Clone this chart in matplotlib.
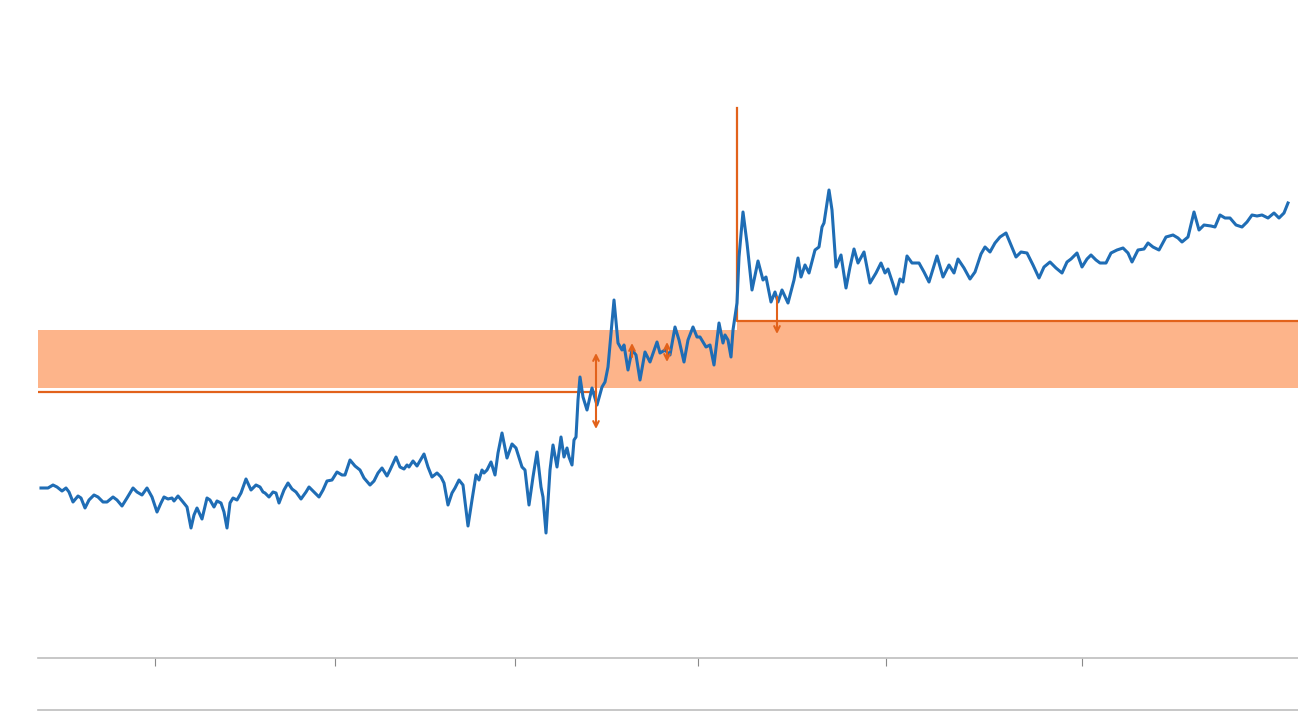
import numpy as np
import matplotlib.pyplot as plt

# kurs (niebieska linia)
t = [41, 45, 48, 53, 57, 62, 66, 69, 73, 78, 81, 85, 89, 94, 98, 103, 107, 113, 117, 122,
     127, 133, 137, 142, 147, 152, 157, 161, 164, 168, 172, 174, 178, 183, 187, 191, 194, 197, 202, 207,
     210, 214, 217, 221, 224, 227, 230, 233, 237, 241, 246, 251, 256, 260, 263, 265, 269, 273, 276, 279,
     284, 288, 292, 296, 301, 306, 309, 314, 319, 323, 327, 332, 337, 342, 345, 350, 355, 360, 364, 370,
     374, 378, 382, 387, 390, 396, 400, 404, 407, 409, 413, 417, 424, 428, 432, 437, 441, 444, 448, 452,
     455, 459, 463, 468, 472, 476, 479, 482, 484, 487, 491, 495, 498, 502, 507, 512, 516, 522, 525, 529,
     533, 537, 541, 543, 546, 550, 553, 557, 561, 564, 567, 569, 572, 574, 576, 578, 580, 583, 587, 592,
     597, 602, 605, 608, 614, 618, 622, 624, 628, 632, 636, 640, 645, 650, 657, 660, 665, 670, 675, 679,
     684, 688, 693, 697, 700, 706, 710, 714, 719, 723, 725, 728, 731, 733, 737, 739, 743, 747, 752, 758,
     763, 766, 771, 775, 778, 782, 788, 794, 798, 801, 805, 809, 815, 819, 822, 824, 829, 832, 836, 841,
     846, 850, 854, 858, 864, 870, 876, 881, 885, 888, 893, 896, 900, 903, 907, 912, 919, 924, 929, 937,
     943, 949, 954, 958, 964, 970, 975, 981, 985, 990, 995, 1000, 1006, 1011, 1016, 1021, 1027, 1033, 1039, 1044,
     1050, 1056, 1062, 1067, 1071, 1077, 1082, 1087, 1091, 1096, 1100, 1106, 1111, 1117, 1123, 1128, 1132, 1138, 1144, 1148,
     1153, 1159, 1166, 1173, 1178, 1182, 1188, 1194, 1199, 1204, 1211, 1215, 1220, 1225, 1230, 1236, 1242, 1247, 1252, 1257,
     1262, 1268, 1274, 1279, 1284, 1288]
kurs = [170, 170, 170, 173, 171, 167, 170, 166, 156, 162, 160, 150, 158, 163, 161, 156, 156, 161, 158, 152,
        160, 170, 166, 163, 170, 161, 146, 155, 161, 159, 160, 157, 162, 156, 151, 130, 143, 150, 139, 160,
        158, 151, 157, 155, 146, 130, 155, 160, 158, 165, 179, 168, 173, 171, 166, 165, 161, 166, 165, 155,
        168, 175, 169, 166, 159, 166, 171, 166, 161, 168, 177, 178, 186, 183, 183, 198, 192, 188, 180, 173,
        177, 185, 190, 182, 188, 201, 191, 189, 193, 191, 197, 192, 204, 191, 181, 185, 181, 175, 153, 165,
        170, 178, 173, 132, 158, 183, 178, 188, 185, 188, 196, 183, 205, 225, 200, 214, 210, 191, 188, 153,
        181, 206, 171, 161, 125, 188, 213, 191, 221, 201, 210, 201, 193, 218, 221, 258, 281, 261, 248, 270,
        253, 271, 276, 291, 358, 315, 308, 313, 288, 308, 303, 278, 306, 296, 316, 305, 308, 303, 331, 318,
        296, 318, 331, 321, 321, 311, 313, 293, 335, 315, 323, 318, 301, 328, 355, 401, 446, 415, 368, 397,
        378, 381, 356, 366, 356, 368, 355, 378, 400, 381, 393, 385, 408, 411, 431, 435, 468, 448, 391, 403,
        370, 391, 409, 395, 406, 375, 385, 395, 385, 389, 374, 364, 379, 376, 402, 395, 395, 386, 376, 402,
        381, 393, 385, 399, 390, 379, 386, 404, 411, 406, 415, 421, 425, 413, 401, 406, 405, 393, 380, 391,
        396, 390, 385, 396, 399, 405, 391, 399, 403, 398, 395, 395, 405, 408, 410, 405, 396, 408, 409, 415,
        411, 408, 421, 423, 420, 416, 421, 446, 428, 433, 432, 431, 443, 440, 440, 433, 431, 436, 443, 442,
        443, 440, 445, 440, 445, 455]

# poziomy (pomaranczowa linia schodkowa i pasmo)
t_zmiany = 737
t_koniec_lewy = 596
poziom_lewy = 266
poziom_prawy = 337
szczyt = 550
pasmo_dol = 270
pasmo_gora_lewa = 328
pasmo_gora_prawa = 337

# strzalki
strz_x = [596, 596, 632, 667, 777]
strz_od = [267, 267, 301, 296, 361]
strz_do = [305, 229, 315, 316, 324]
strz_styl = ['->', '->', '->', '<->', '->']

ticki = [155, 335, 515, 698, 886, 1082]

niebieski = '#1f6db5'
pomar = '#e2621b'

fig = plt.figure(figsize=(12.98, 7.12), dpi=100)
ax = fig.add_axes([38 / 1298, 54 / 712, 1 - 38 / 1298, 658 / 712])

# pasmo
ax.fill_between([38, t_zmiany], pasmo_dol, pasmo_gora_lewa, color='#fdb48a', lw=0, zorder=1)
ax.fill_between([t_zmiany, 1298], pasmo_dol, pasmo_gora_prawa, color='#fdb48a', lw=0, zorder=1)

# linia pomaranczowa
ax.plot([38, t_koniec_lewy], [poziom_lewy, poziom_lewy], color=pomar, lw=1.6, zorder=2)
ax.plot([t_zmiany, t_zmiany, 1298], [szczyt, poziom_prawy, poziom_prawy], color=pomar, lw=1.6, zorder=2)

ax.plot(t, kurs, color=niebieski, lw=2.2, zorder=3, solid_joinstyle='round')

for x, a, b, s in zip(strz_x, strz_od, strz_do, strz_styl):
    ax.annotate('', xy=(x, b), xytext=(x, a),
                arrowprops=dict(arrowstyle=s, color=pomar, lw=1.5, mutation_scale=10,
                                shrinkA=0, shrinkB=0), zorder=4)

ax.set_xlim(38, 1298)
ax.set_ylim(0, 658)
ax.set_xticks(ticki)
ax.set_xticklabels([])
ax.set_yticks([])
for s in ['top', 'right', 'left']:
    ax.spines[s].set_visible(False)
ax.spines['bottom'].set_color('#bdbdbd')
ax.spines['bottom'].set_linewidth(1.2)
ax.tick_params(axis='x', length=6, width=0.8, color='#8a8a8a')

# dolna linia (drugi panel)
ax2 = fig.add_axes([38 / 1298, 0.0, 1 - 38 / 1298, 2 / 712])
ax2.set_xticks([])
ax2.set_yticks([])
for s in ['bottom', 'right', 'left']:
    ax2.spines[s].set_visible(False)
ax2.spines['top'].set_color('#bdbdbd')
ax2.spines['top'].set_linewidth(1.2)
ax2.patch.set_alpha(0)

plt.savefig('out.png', dpi=100)
